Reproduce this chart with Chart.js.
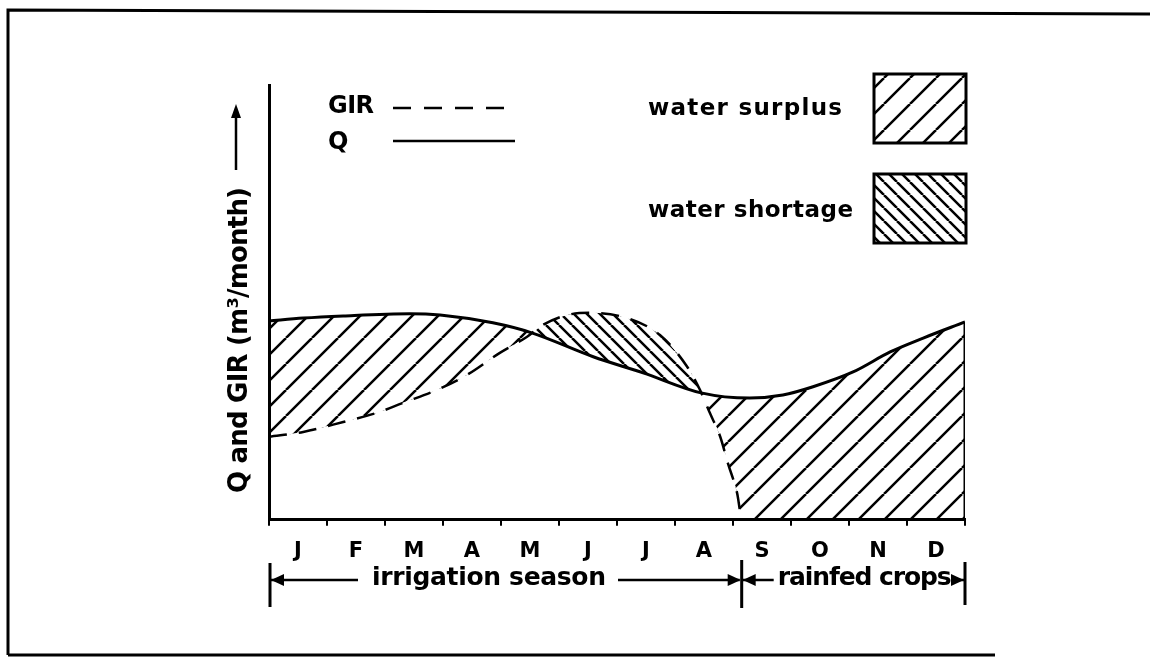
<!DOCTYPE html>
<html><head><meta charset="utf-8">
<script src="https://cdn.jsdelivr.net/npm/chart.js@4/dist/chart.umd.min.js"></script>
<style>html,body{margin:0;padding:0;background:#fff;} canvas{display:block;}</style>
</head><body>
<canvas id="c" width="1150" height="657"></canvas>
<script>
// ---- data (months as position along the year, values in arbitrary units) ----
const months = ['J','F','M','A','M','J','J','A','S','O','N','D'];
const qMonth = [0,0.59,1.28,2.43,2.95,3.86,4.53,5.59,6.45,7.45,8.29,8.86,9.38,10.07,10.71,11.28,12];
const qValue = [45.7,46.4,46.9,47.4,47.1,45.3,43.0,37.5,33.8,29.2,28.0,28.7,30.6,34.0,38.6,41.8,45.5];
const girMonth = [0,0.59,1.28,1.86,2.31,2.90,3.41,3.98,4.45,4.72,5.14,5.53,6.17,6.74,7.21,7.43,7.60,7.78,7.91,8.07,8.16,9,10,11,12];
const girValue = [19.1,20.2,22.5,24.6,26.9,29.9,33.3,38.4,42.1,44.8,47.1,47.6,46.4,42.5,35.2,29.9,24.6,19.1,13.1,6.2,0,0,0,0,0];
const seasonLabels = ['irrigation season','rainfed crops'];
const seasonBounds = [0, 8.15, 12];
const lineLegend = ['GIR','Q'];
const areaLegend = ['water surplus','water shortage'];
const yTitle = 'Q and GIR (m³/month)';

const FONT = '"DejaVu Sans", sans-serif';
const canvas = document.getElementById('c');
const mainCtx = canvas.getContext('2d');

function hatch(period, slash, lw) {
  const c = document.createElement('canvas');
  c.width = period; c.height = period;
  const g = c.getContext('2d');
  g.strokeStyle = '#000'; g.lineWidth = lw;
  g.beginPath();
  for (const o of [-period, 0, period]) {
    if (slash) { g.moveTo(o, period); g.lineTo(o + period, 0); }
    else { g.moveTo(o, 0); g.lineTo(o + period, period); }
  }
  g.stroke();
  return mainCtx.createPattern(c, 'repeat');
}
const surplusPat = hatch(26, true, 2.5);
const shortagePat = hatch(13, false, 2.5);

function pts(xs, ys) { return xs.map((x, i) => ({x, y: ys[i]})); }

// draw text stretched (via letter spacing) to a given width
function txt(c, s, x, y, size, width) {
  c.font = 'bold ' + size + 'px ' + FONT;
  c.letterSpacing = '0px';
  const w0 = c.measureText(s).width;
  const sp = width ? (width - w0) / Math.max(1, s.length - 1) : 0;
  c.letterSpacing = sp + 'px';
  c.textAlign = 'left';
  c.textBaseline = 'alphabetic';
  c.fillText(s, x, y);
  c.letterSpacing = '0px';
  return width || w0;
}
function arrowHead(c, x, y, dir) { // dir: 1 right, -1 left, tip at x
  c.beginPath();
  c.moveTo(x, y);
  c.lineTo(x - dir * 13, y - 6);
  c.lineTo(x - dir * 13, y + 6);
  c.closePath(); c.fill();
}

const annot = {
  id: 'annot',
  afterDraw(chart) {
    const c = chart.ctx, xs = chart.scales.x;
    c.save();
    c.fillStyle = '#000'; c.strokeStyle = '#000';
    // frame
    c.lineWidth = 3;
    c.beginPath(); c.moveTo(8, 655); c.lineTo(8, 10); c.lineTo(1150, 14); c.stroke();
    c.beginPath(); c.moveTo(8, 655); c.lineTo(995, 655); c.stroke();

    // line legend
    txt(c, lineLegend[0], 328, 113, 24, 46);
    txt(c, lineLegend[1], 328, 149, 24, 0);
    c.lineWidth = 2.5;
    c.setLineDash([18, 13]);
    c.beginPath(); c.moveTo(393, 108); c.lineTo(512, 108); c.stroke();
    c.setLineDash([]);
    c.beginPath(); c.moveTo(393, 141); c.lineTo(515, 141); c.stroke();

    // area legend
    txt(c, areaLegend[0], 648, 115, 23, 194);
    txt(c, areaLegend[1], 648, 217, 23, 205);
    const boxes = [[874, 74, surplusPat], [874, 174, shortagePat]];
    for (const [bx, by, pat] of boxes) {
      c.fillStyle = pat; c.fillRect(bx, by, 92, 69);
      c.fillStyle = '#000';
      c.lineWidth = 3; c.strokeRect(bx, by, 92, 69);
    }

    // y title + arrow
    c.save();
    c.translate(247, 493); c.rotate(-Math.PI / 2);
    txt(c, yTitle, 0, 0, 26, 306);
    c.restore();
    c.lineWidth = 2.5;
    c.beginPath(); c.moveTo(236, 170); c.lineTo(236, 116); c.stroke();
    c.beginPath(); c.moveTo(236, 104); c.lineTo(231, 118); c.lineTo(241, 118); c.closePath(); c.fill();

    // season annotation
    const px = seasonBounds.map(v => xs.getPixelForValue(v));
    const yA = 580;
    c.lineWidth = 3;
    c.beginPath();
    c.moveTo(px[0] + 1, 563); c.lineTo(px[0] + 1, 607);
    c.moveTo(px[1], 560); c.lineTo(px[1], 608);
    c.moveTo(px[2], 562); c.lineTo(px[2], 605);
    c.stroke();
    c.lineWidth = 2.5;
    // irrigation season
    const t1x = px[0] + 103;
    const w1 = txt(c, seasonLabels[0], t1x, 585, 25, 234);
    c.beginPath(); c.moveTo(px[0] + 2, yA); c.lineTo(t1x - 14, yA);
    c.moveTo(t1x + w1 + 12, yA); c.lineTo(px[1] - 2, yA); c.stroke();
    arrowHead(c, px[0] + 2, yA, -1);
    arrowHead(c, px[1] - 1, yA, 1);
    // rainfed crops
    const t2x = px[1] + 36;
    const w2 = txt(c, seasonLabels[1], t2x, 585, 25, 174);
    c.beginPath(); c.moveTo(px[1] + 1, yA); c.lineTo(t2x - 4, yA);
    c.moveTo(t2x + w2 + 1, yA); c.lineTo(px[2] - 1, yA); c.stroke();
    arrowHead(c, px[1] + 1, yA, -1);
    arrowHead(c, px[2] - 1, yA, 1);
    c.restore();
  }
};

new Chart(canvas, {
  type: 'line',
  data: {
    datasets: [
      { label: 'Q', data: pts(qMonth, qValue), borderColor: '#000', borderWidth: 3,
        pointRadius: 0, cubicInterpolationMode: 'monotone',
        fill: { target: 1, above: surplusPat, below: shortagePat } },
      { label: 'GIR', data: pts(girMonth, girValue), borderColor: '#000', borderWidth: 2.5,
        borderDash: [18, 12], pointRadius: 0, cubicInterpolationMode: 'monotone', fill: false },
      { label: 'edge', data: [{x: qMonth[qMonth.length - 1], y: 0}, {x: qMonth[qMonth.length - 1], y: qValue[qValue.length - 1]}],
        borderColor: '#000', borderWidth: 3, pointRadius: 0, fill: false }
    ]
  },
  options: {
    responsive: false, animation: false, devicePixelRatio: 1,
    layout: { padding: { left: 269, top: 85, right: 185, bottom: 80 } },
    plugins: { legend: { display: false }, tooltip: { enabled: false } },
    scales: {
      x: { type: 'linear', min: 0, max: 12, position: 'bottom', weight: 0,
        ticks: { display: false, stepSize: 1 },
        grid: { display: true, drawOnChartArea: false, drawTicks: true, tickLength: 6, color: '#000', lineWidth: 2 },
        border: { display: true, color: '#000', width: 3 } },
      xm: { type: 'category', labels: months, offset: true, position: 'bottom', weight: 1,
        grid: { display: false, drawTicks: false }, border: { display: false },
        ticks: { color: '#000', font: { family: FONT, size: 21, weight: 'bold' }, padding: 13, maxRotation: 0, autoSkip: false } },
      y: { min: 0, max: 100, ticks: { display: false },
        grid: { display: false, drawTicks: false },
        border: { display: true, color: '#000', width: 3 } }
    }
  },
  plugins: [annot]
});
</script>
</body></html>
